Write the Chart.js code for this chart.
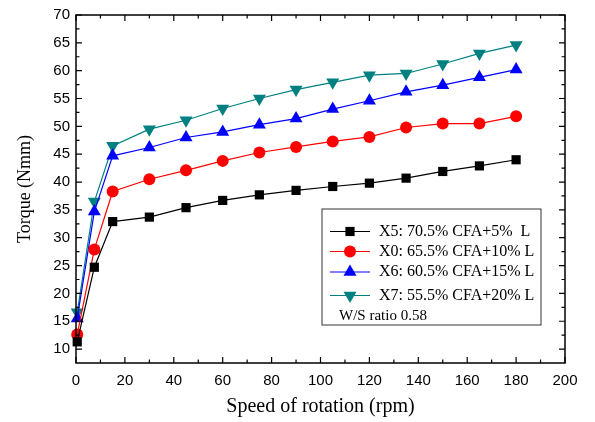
<!DOCTYPE html>
<html>

<head>
    <title>Torque vs Speed of Rotation</title>
    <script src="https://cdn.jsdelivr.net/npm/chart.js"></script>
    <style>
        html, body { margin: 0; padding: 0; background: #fff; }
        #wrap { width: 595px; height: 422px; }
    </style>
</head>

<body>
    <div id="wrap"><canvas id="torqueChart" width="595" height="422"></canvas></div>

    <script>
        // speed of rotation (rpm)
        const speed = [0.5, 7.5, 15, 30, 45, 60, 75, 90, 105, 120, 135, 150, 165, 180];

        // torque (Nmm) for each mix
        const x5 = [11.3, 24.7, 32.9, 33.7, 35.4, 36.7, 37.7, 38.5, 39.2, 39.8, 40.7, 41.9, 42.9, 44.0];
        const x0 = [12.6, 27.9, 38.3, 40.5, 42.1, 43.8, 45.3, 46.3, 47.3, 48.1, 49.8, 50.5, 50.5, 51.8];
        const x6 = [15.5, 34.7, 44.7, 46.2, 48.0, 49.0, 50.3, 51.4, 53.1, 54.6, 56.2, 57.4, 58.8, 60.2];
        const x7 = [16.6, 36.5, 46.5, 49.5, 51.1, 53.2, 55.0, 56.6, 57.9, 59.2, 59.5, 61.2, 63.1, 64.6];

        const seriesLabels = [
            'X5: 70.5% CFA+5%  L',
            'X0: 65.5% CFA+10% L',
            'X6: 60.5% CFA+15% L',
            'X7: 55.5% CFA+20% L'
        ];
        const noteText = 'W/S ratio 0.58';

        const xTicks = [0, 20, 40, 60, 80, 100, 120, 140, 160, 180, 200];
        const yTicks = [10, 15, 20, 25, 30, 35, 40, 45, 50, 55, 60, 65, 70];

        const pts = (ys) => speed.map((s, i) => ({ x: s, y: ys[i] }));

        const styles = [
            { color: '#000000', pointStyle: 'rect', radius: 6.5, rotation: 0 },
            { color: '#ff0000', pointStyle: 'circle', radius: 6, rotation: 0 },
            { color: '#0000ff', pointStyle: 'triangle', radius: 7.5, rotation: 0 },
            { color: '#008080', pointStyle: 'triangle', radius: 7.5, rotation: 180 }
        ];

        const datasets = [x5, x0, x6, x7].map((ys, i) => ({
            label: seriesLabels[i],
            data: pts(ys),
            borderColor: styles[i].color,
            backgroundColor: styles[i].color,
            borderWidth: 1.2,
            pointStyle: styles[i].pointStyle,
            pointRadius: styles[i].radius,
            pointRotation: styles[i].rotation,
            pointBorderWidth: 0,
            tension: 0,
            clip: false
        }));

        // frame with inward ticks on all four sides
        const frame = {
            id: 'frame',
            afterDatasetsDraw(chart) {
                const { ctx, chartArea: a, scales } = chart;
                const xs = scales.x, ys = scales.y;
                ctx.save();
                ctx.strokeStyle = '#000';
                ctx.lineWidth = 1.5;
                ctx.strokeRect(a.left, a.top, a.right - a.left, a.bottom - a.top);
                ctx.lineWidth = 1.2;
                ctx.beginPath();
                for (let v = 0; v <= 200; v += 10) {
                    const px = xs.getPixelForValue(v);
                    const len = v % 20 === 0 ? 6 : 3.5;
                    ctx.moveTo(px, a.bottom); ctx.lineTo(px, a.bottom - len);
                    ctx.moveTo(px, a.top); ctx.lineTo(px, a.top + len);
                }
                for (let v = 10; v <= 70; v += 2.5) {
                    const py = ys.getPixelForValue(v);
                    const len = v % 5 === 0 ? 6 : 3.5;
                    ctx.moveTo(a.left, py); ctx.lineTo(a.left + len, py);
                    ctx.moveTo(a.right, py); ctx.lineTo(a.right - len, py);
                }
                ctx.stroke();
                ctx.restore();
            }
        };

        // legend box inside the plot
        const legendBox = {
            id: 'legendBox',
            afterDraw(chart) {
                const { ctx } = chart;
                const box = { x: 322, y: 209, w: 219, h: 116 };
                const rows = [231.5, 251.5, 272, 295.5];
                ctx.save();
                ctx.fillStyle = '#fff';
                ctx.fillRect(box.x, box.y, box.w, box.h);
                ctx.strokeStyle = '#333';
                ctx.lineWidth = 1;
                ctx.strokeRect(box.x, box.y, box.w, box.h);
                ctx.font = '16px "Liberation Serif", "Times New Roman", serif';
                ctx.textBaseline = 'middle';
                chart.data.datasets.forEach((ds, i) => {
                    const y = rows[i];
                    ctx.strokeStyle = ds.borderColor;
                    ctx.fillStyle = ds.backgroundColor;
                    ctx.lineWidth = 1.2;
                    ctx.beginPath();
                    ctx.moveTo(330, y); ctx.lineTo(370, y);
                    ctx.stroke();
                    Chart.helpers.drawPoint(ctx, {
                        pointStyle: ds.pointStyle,
                        radius: ds.pointRadius,
                        rotation: ds.pointRotation,
                        borderWidth: 0
                    }, 350, y);
                    ctx.fillStyle = '#000';
                    ctx.fillText(ds.label, 379, y);
                });
                ctx.fillStyle = '#000';
                ctx.font = '15px "Liberation Serif", "Times New Roman", serif';
                ctx.fillText(noteText, 339, 316.5);
                ctx.restore();
            }
        };

        const tickFont = { family: '"Liberation Sans", Arial, sans-serif', size: 15 };
        const titleFont = { family: '"Liberation Serif", "Times New Roman", serif', size: 18 };

        new Chart('torqueChart', {
            type: 'line',
            data: { datasets },
            options: {
                responsive: false,
                animation: false,
                layout: { padding: { top: 13, right: 30, left: 0, bottom: 0 } },
                plugins: { legend: { display: false }, tooltip: { enabled: false } },
                scales: {
                    x: {
                        type: 'linear',
                        min: 0,
                        max: 200,
                        afterBuildTicks: (s) => { s.ticks = xTicks.map(v => ({ value: v })); },
                        afterFit: (s) => { s.height = 59; },
                        grid: { display: false, drawTicks: false },
                        border: { display: false },
                        ticks: { font: tickFont, color: '#000', padding: 9, maxRotation: 0, autoSkip: false },
                        title: { display: true, text: 'Speed of rotation (rpm)', font: { ...titleFont, size: 20 }, color: '#000', padding: { top: 0, bottom: 3 } }
                    },
                    y: {
                        type: 'linear',
                        min: 7.5,
                        max: 70,
                        afterBuildTicks: (s) => { s.ticks = yTicks.map(v => ({ value: v })); },
                        afterFit: (s) => { s.width = 76; },
                        grid: { display: false, drawTicks: false },
                        border: { display: false },
                        ticks: { font: tickFont, color: '#000', padding: 6, autoSkip: false },
                        title: { display: true, text: 'Torque (Nmm)', font: titleFont, color: '#000', padding: { top: 14, bottom: 0 } }
                    }
                }
            },
            plugins: [frame, legendBox]
        });
    </script>
</body>

</html>
